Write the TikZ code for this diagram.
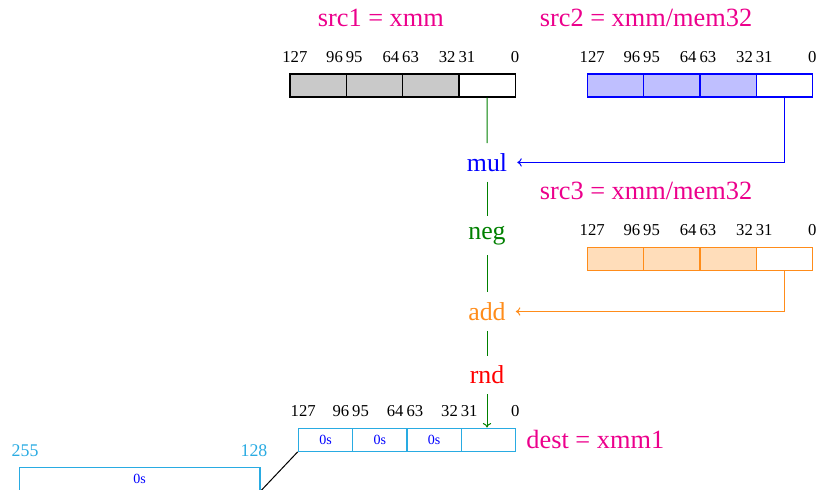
\documentclass[tikz,border=0pt]{standalone}
\usepackage{fontspec}
\setmainfont{Liberation Serif}
\usetikzlibrary{calc,arrows.meta}

\definecolor{labelpink}{RGB}{236,0,140}
\definecolor{regcyan}{RGB}{41,171,226}
\definecolor{addorange}{RGB}{255,140,26}
\definecolor{flowgreen}{RGB}{0,128,0}

% bit numbers over the four cells of a register
\newcommand{\regbits}[1]{%
  \node[bitnum] (#1-127) at ($(#1a.north west)+(5.5,-10.8)$) {127};
  \node[bitnum] (#1-96) at ($(#1a.north east)+(-12.5,-10.8)$) {96};
  \node[bitnum] (#1-95) at ($(#1b.north west)+(8.5,-10.8)$) {95};
  \node[bitnum] (#1-64) at ($(#1b.north east)+(-12.5,-10.8)$) {64};
  \node[bitnum] (#1-63) at ($(#1c.north west)+(8.5,-10.8)$) {63};
  \node[bitnum] (#1-32) at ($(#1c.north east)+(-12.5,-10.8)$) {32};
  \node[bitnum] (#1-31) at ($(#1d.north west)+(8.5,-10.8)$) {31};
  \node[bitnum] (#1-0) at ($(#1d.north east)+(-1,-10.8)$) {0};
}

\begin{document}
\begin{tikzpicture}[x=0.6pt, y=-0.6pt, node distance=33.8pt, line width=0.6pt,
                    >={To[length=2.7pt,width=5pt]},
                    cell/.style={draw, rectangle, minimum width=33.8pt, minimum height=13.8pt, inner sep=0pt, line width=0.8pt},
                    bitnum/.style={anchor=base, inner sep=0pt, font=\fontsize{10}{12}\selectfont},
                    regname/.style={anchor=base, inner sep=0pt, text=labelpink, font=\fontsize{15.8}{18}\selectfont},
                    op/.style={inner sep=5.8pt, font=\fontsize{15.5}{18}\selectfont},
                    zero/.style={text=blue, font=\fontsize{8.4}{10}\selectfont}]

  \useasboundingbox (0,0) rectangle (817,489);

  % src1
  \node[cell, fill=black!21] (s1a) at (318.2,85.4) {};
  \node[cell, fill=black!21] (s1b) [right of=s1a] {};
  \node[cell, fill=black!21] (s1c) [right of=s1b] {};
  \node[cell, fill=white] (s1d) [right of=s1c] {};
  \regbits{s1}
  \node[regname] (src1) at (380.8,26.7) {src1 = xmm};

  % src2
  \node[cell, draw=blue, fill=blue!25] (s2a) at (615.5,85.4) {};
  \node[cell, draw=blue, fill=blue!25] (s2b) [right of=s2a] {};
  \node[cell, draw=blue, fill=blue!25] (s2c) [right of=s2b] {};
  \node[cell, draw=blue, fill=white] (s2d) [right of=s2c] {};
  \regbits{s2}
  \node[regname] (src2) at (646,26.7) {src2 = xmm/mem32};

  % src3
  \node[cell, draw=addorange, fill=addorange!30] (s3a) at (615.5,258.7) {};
  \node[cell, draw=addorange, fill=addorange!30] (s3b) [right of=s3a] {};
  \node[cell, draw=addorange, fill=addorange!30] (s3c) [right of=s3b] {};
  \node[cell, draw=addorange, fill=white] (s3d) [right of=s3c] {};
  \regbits{s3}
  \node[regname] (src3) at (646,199) {src3 = xmm/mem32};

  % dest
  \begin{scope}[node distance=32.6pt, cell/.append style={draw=regcyan, minimum width=32.6pt}]
    \node[cell, zero] (da) at (325.5,439.7) {0s};
    \node[cell, zero] (db) [right of=da] {0s};
    \node[cell, zero] (dc) [right of=db] {0s};
    \node[cell] (dd) [right of=dc] {};
  \end{scope}
  \regbits{d}
  \node[regname] (dest) at (595.3,448.3) {dest = xmm1};

  % upper half of dest
  \node[cell, draw=regcyan, zero, minimum width=144.4pt] (hi) at (139.7,478.8) {0s};
  \node[bitnum, text=regcyan, font=\fontsize{10.7}{12}\selectfont] (hi-255) at ($(hi.north west)+(6.4,-10.6)$) {255};
  \node[bitnum, text=regcyan, font=\fontsize{10.7}{12}\selectfont] (hi-128) at ($(hi.north east)+(-6.7,-10.6)$) {128};

  % operations
  \node[op, text=blue] (mul) at (487,162.4) {mul};
  \node[op, text=flowgreen] (neg) at (487,235.8) {neg};
  \node[op, text=addorange] (add) at (487,311.5) {add};
  \node[op, text=red] (rnd) at (487,375) {rnd};

  \path[flowgreen]
    (s1d) edge (mul)
    (mul) edge (neg)
    (neg) edge (add)
    (add) edge (rnd);
  \draw[flowgreen, ->] (rnd) -- (rnd |- dd.north);

  \draw[blue, ->] (s2d.south) |- (mul.east);
  \draw[addorange, ->] (s3d.south) |- (add.east);

  \draw (da.south west) -- (hi.south east);

\end{tikzpicture}
\end{document}
